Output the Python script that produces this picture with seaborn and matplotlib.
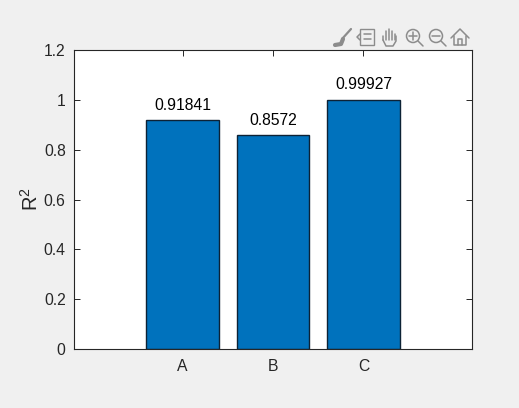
import matplotlib
matplotlib.use("Agg")
import matplotlib.pyplot as plt
import seaborn as sns
from matplotlib.lines import Line2D
from matplotlib.patches import Circle, Rectangle

# --------------------------------------------------
# Data
# --------------------------------------------------

categories = ["A", "B", "C"]
r2_values = [0.91841, 0.8572, 0.99927]
bar_labels = ["0.91841", "0.8572", "0.99927"]
y_ticks = [0, 0.2, 0.4, 0.6, 0.8, 1, 1.2]
y_tick_labels = ["0", "0.2", "0.4", "0.6", "0.8", "1", "1.2"]

# --------------------------------------------------
# Figure
# --------------------------------------------------

W, H = 519, 408
BG = "#f0f0f0"
GREY = "#262626"
ICON = "#8c8c8c"

sns.set_theme(style="white")
plt.rcParams["font.family"] = ["Liberation Sans", "DejaVu Sans"]
plt.rcParams["mathtext.fontset"] = "custom"
plt.rcParams["mathtext.rm"] = "Liberation Sans"

fig = plt.figure(figsize=(W / 100, H / 100), dpi=100, facecolor=BG)
ax = fig.add_axes([74 / W, 1 - 349 / H, 398 / W, 299 / H], facecolor="white")

sns.barplot(
    x=categories,
    y=r2_values,
    color="#0072bd",
    saturation=1,
    width=0.8,
    edgecolor="#0d2235",
    linewidth=1,
    ax=ax,
)

for bar, label in zip(ax.patches, bar_labels):
    ax.annotate(
        label,
        (bar.get_x() + bar.get_width() / 2, bar.get_height()),
        xytext=(0, 5.5),
        textcoords="offset points",
        ha="center",
        va="bottom",
        fontsize=11.3,
        color="black",
    )

ax.set_xlim(-1.2, 3.2)
ax.set_ylim(0, 1.2)
ax.set_yticks(y_ticks)
ax.set_yticklabels(y_tick_labels)
ax.set_ylabel("R$^{2}$", fontsize=14.5, color=GREY, labelpad=1)

ax.tick_params(
    axis="both",
    direction="in",
    length=4,
    width=0.7,
    labelsize=11.3,
    labelcolor=GREY,
    color=GREY,
    top=True,
    right=True,
    left=True,
    bottom=True,
    pad=6,
)
ax.tick_params(axis="x", pad=7.5)

for spine in ax.spines.values():
    spine.set_visible(True)
    spine.set_color(GREY)
    spine.set_linewidth(0.8)

# --------------------------------------------------
# Axes toolbar icons
# --------------------------------------------------


def px(x, y):
    return x / W, 1 - y / H


def icon_line(xs, ys, lw=1.1):
    fx = [x / W for x in xs]
    fy = [1 - y / H for y in ys]
    fig.add_artist(Line2D(fx, fy, color=ICON, linewidth=lw, solid_capstyle="round"))


def icon_lens(cx, cy):
    fig.add_artist(
        Circle(
            (cx, cy),
            radius=6.5,
            transform=None,
            fill=False,
            edgecolor=ICON,
            linewidth=1.1,
        )
    )
    icon_line([cx + 5, cx + 10], [H - cy + 5, H - cy + 10])


# brush
icon_line([342, 351], [39, 29], lw=1.6)
icon_line([335, 341, 343], [45, 44, 39], lw=3)

# data tips
fig.add_artist(
    Rectangle(
        px(360, 45),
        14 / W,
        16 / H,
        transform=fig.transFigure,
        fill=False,
        edgecolor=ICON,
        linewidth=1.0,
    )
)
icon_line([364, 371], [34, 34])
icon_line([364, 371], [39, 39])
icon_line([360, 357, 360], [34, 37, 40])

# hand
for x0, top in zip([383, 386, 389, 392, 395], [36, 31, 29, 31, 34]):
    icon_line([x0, x0], [top, 40])
icon_line([383, 386, 393, 396, 396], [40, 46, 46, 41, 36])

# zoom in, zoom out
icon_lens(413, H - 36)
icon_line([409, 417], [36, 36])
icon_line([413, 413], [32, 40])
icon_lens(436, H - 36)
icon_line([432, 440], [36, 36])

# home
icon_line([451, 460, 469], [38, 29, 38])
icon_line([454, 454, 466, 466], [36, 45, 45, 36])
icon_line([458, 458, 462, 462], [45, 39, 39, 45])

fig.savefig("out.png", dpi=100, facecolor=BG)
plt.close(fig)
